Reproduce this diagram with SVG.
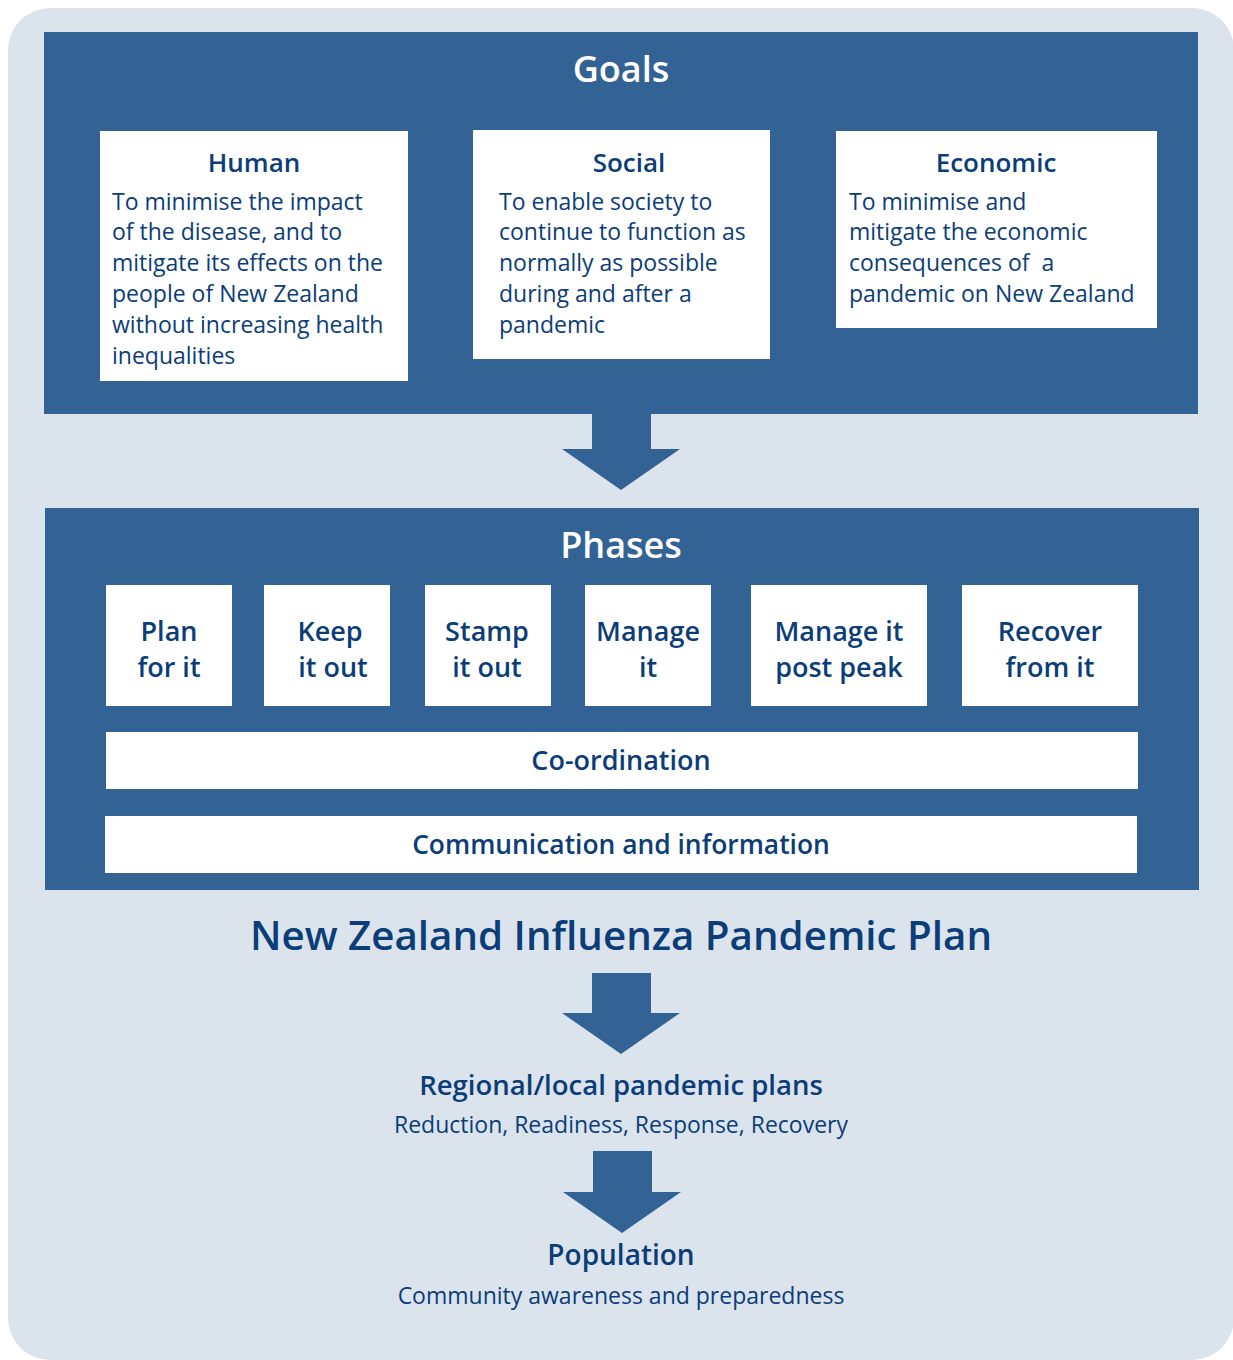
<svg xmlns="http://www.w3.org/2000/svg" width="1233" height="1360" viewBox="0 0 1233 1360">
<defs>
<style>
.panel{fill:#336394}
.box{fill:#ffffff}
.arrow{fill:#336394}
.h{font-family:"Open Sans","Liberation Sans",sans-serif;font-weight:600;fill:#0b3d78;text-anchor:middle}
.t{font-family:"Open Sans","Liberation Sans",sans-serif;font-size:23px;fill:#0b3d78}
.w{font-family:"Open Sans","Liberation Sans",sans-serif;font-weight:600;fill:#ffffff;text-anchor:middle}
.ph{font-family:"Open Sans","Liberation Sans",sans-serif;font-weight:600;font-size:27px;fill:#0b3d78;text-anchor:middle}
.c{font-family:"Open Sans","Liberation Sans",sans-serif;font-size:23px;fill:#0b3d78;text-anchor:middle}
</style>
</defs>
<rect x="8" y="8" width="1226" height="1352" rx="42" fill="#dbe3ed"/>
<g id="goals">
<rect class="panel" x="44" y="32" width="1154" height="382"/>
<text class="w" x="621" y="82" font-size="36">Goals</text>
</g>
<g id="human">
<rect class="box" x="100" y="131" width="308" height="250"/>
<text class="h" x="254" y="172" font-size="26">Human</text>
<text class="t" x="112" y="210">To minimise the impact</text>
<text class="t" x="112" y="240">of the disease, and to</text>
<text class="t" x="112" y="271">mitigate its effects on the</text>
<text class="t" x="112" y="302">people of New Zealand</text>
<text class="t" x="112" y="333">without increasing health</text>
<text class="t" x="112" y="364">inequalities</text>
</g>
<g id="social">
<rect class="box" x="473" y="130" width="297" height="229"/>
<text class="h" x="629" y="172" font-size="26">Social</text>
<text class="t" x="499" y="210">To enable society to</text>
<text class="t" x="499" y="240">continue to function as</text>
<text class="t" x="499" y="271">normally as possible</text>
<text class="t" x="499" y="302">during and after a</text>
<text class="t" x="499" y="333">pandemic</text>
</g>
<g id="economic">
<rect class="box" x="836" y="131" width="321" height="197"/>
<text class="h" x="996" y="172" font-size="26">Economic</text>
<text class="t" x="849" y="210">To minimise and</text>
<text class="t" x="849" y="240">mitigate the economic</text>
<text class="t" x="849" y="271" style="white-space:pre">consequences of  a</text>
<text class="t" x="849" y="302">pandemic on New Zealand</text>
</g>
<g id="phases">
<rect class="panel" x="45" y="508" width="1154" height="382"/>
<text class="w" x="621" y="558" font-size="36">Phases</text>
</g>
<g id="plan">
<rect class="box" x="106" y="585" width="126" height="121"/>
<text class="ph" x="169" y="641">Plan</text>
<text class="ph" x="169" y="677">for it</text>
</g>
<g id="keep">
<rect class="box" x="264" y="585" width="126" height="121"/>
<text class="ph" x="330" y="641">Keep</text>
<text class="ph" x="333" y="677">it out</text>
</g>
<g id="stamp">
<rect class="box" x="425" y="585" width="126" height="121"/>
<text class="ph" x="487" y="641">Stamp</text>
<text class="ph" x="487" y="677">it out</text>
</g>
<g id="manage">
<rect class="box" x="585" y="585" width="126" height="121"/>
<text class="ph" x="648" y="641">Manage</text>
<text class="ph" x="648" y="677">it</text>
</g>
<g id="postpeak">
<rect class="box" x="751" y="585" width="176" height="121"/>
<text class="ph" x="839" y="641">Manage it</text>
<text class="ph" x="839" y="677">post peak</text>
</g>
<g id="recover">
<rect class="box" x="962" y="585" width="176" height="121"/>
<text class="ph" x="1050" y="641">Recover</text>
<text class="ph" x="1050" y="677">from it</text>
</g>
<g id="coordination">
<rect class="box" x="106" y="732" width="1032" height="57"/>
<text class="ph" x="621" y="770">Co-ordination</text>
</g>
<g id="communication">
<rect class="box" x="105" y="816" width="1032" height="57"/>
<text class="ph" x="621" y="854" style="font-size:26.4px">Communication and information</text>
</g>
<g id="plan-title">
<text class="h" x="621" y="950" font-size="40.3">New Zealand Influenza Pandemic Plan</text>
</g>
<g id="regional">
<text class="h" x="621" y="1095" font-size="27.5">Regional/local pandemic plans</text>
<text class="c" x="621" y="1133">Reduction, Readiness, Response, Recovery</text>
</g>
<g id="population">
<text class="h" x="621" y="1265" font-size="28">Population</text>
<text class="c" x="621" y="1304">Community awareness and preparedness</text>
</g>
<g id="connectors">
<polygon class="arrow" points="592,414 651,414 651,449 680,449 621,490 562,449 592,449"/>
<polygon class="arrow" points="592,973 651,973 651,1013 680,1013 621,1054 562,1013 592,1013"/>
<polygon class="arrow" points="593,1151 652,1151 652,1192 681,1192 622,1233 563,1192 593,1192"/>
</g>
</svg>
